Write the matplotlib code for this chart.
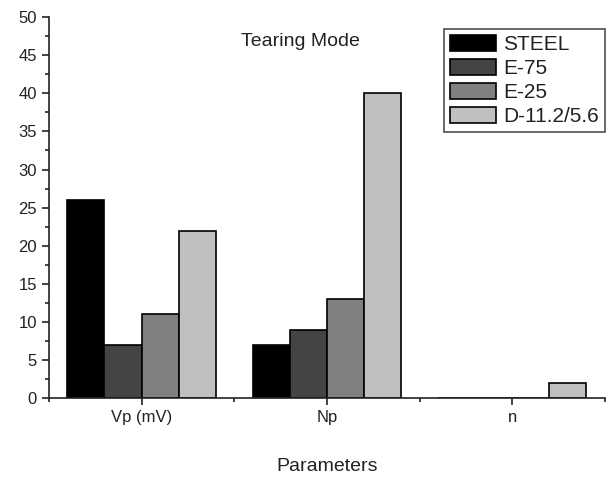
import matplotlib
matplotlib.use("Agg")
import matplotlib.pyplot as plt
import numpy as np
from matplotlib.ticker import MultipleLocator, FixedLocator

categories = ["Vp (mV)", "Np", "n"]
series_names = ["STEEL", "E-75", "E-25", "D-11.2/5.6"]
steel = [26, 7, 0]
e75 = [7, 9, 0]
e25 = [11, 13, 0]
d112 = [22, 40, 2]
colors = ["#000000", "#444444", "#808080", "#c0c0c0"]

plt.rcParams['font.family'] = ['Liberation Sans', 'DejaVu Sans']
fig = plt.figure(figsize=(6.11, 4.88), dpi=100)
ax = fig.add_axes([0.080, 0.184, 0.910, 0.781])

x = np.arange(1, len(categories) + 1)
w = 0.2
for i, (vals, name) in enumerate(zip([steel, e75, e25, d112], series_names)):
    ax.bar(x + (i - 1.5) * w, vals, width=w, color=colors[i], edgecolor="black",
           linewidth=1.2, label=name)

ax.set_xlim(0.5, 3.5)
ax.set_ylim(0, 50)
ax.set_xticks(x)
ax.set_xticklabels(categories)
ax.xaxis.set_minor_locator(FixedLocator([0.5, 1.5, 2.5, 3.5]))
ax.yaxis.set_major_locator(MultipleLocator(5))
ax.yaxis.set_minor_locator(MultipleLocator(2.5))
ax.tick_params(axis='both', which='major', direction='out', length=5, width=1.2,
               labelsize=12, colors="#222222")
ax.tick_params(axis='both', which='minor', direction='out', length=3, width=1.2,
               colors="#222222")
for s in ["top", "right"]:
    ax.spines[s].set_visible(False)
for s in ["left", "bottom"]:
    ax.spines[s].set_linewidth(1.2)
    ax.spines[s].set_color("#222222")

ax.set_xlabel("Parameters", fontsize=14, labelpad=24, color="#222222")
fig.text(300 / 611, 1 - 42 / 488, "Tearing Mode",
         ha="center", va="center", fontsize=14, color="#222222")

leg = ax.legend(loc="upper left", bbox_to_anchor=(444 / 611, 1 - 29 / 488),
                bbox_transform=fig.transFigure, fontsize=15, frameon=True,
                fancybox=False, edgecolor="#222222", handlelength=2.2,
                handleheight=0.8, handletextpad=0.35, labelspacing=0.22,
                borderpad=0.3, borderaxespad=0)
leg.get_frame().set_linewidth(1.2)
for t in leg.get_texts():
    t.set_color("#222222")

fig.savefig("out.png", dpi=100)
